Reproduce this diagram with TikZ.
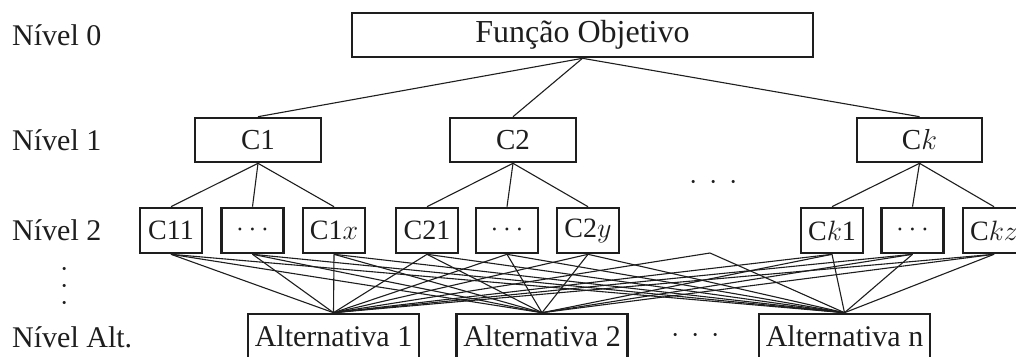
\RequirePackage{fix-cm}
\documentclass[tikz,border=0pt]{standalone}
\usepackage{fontspec}
\setmainfont{Liberation Serif}
\usepackage{tikz}
\usetikzlibrary{positioning}
\definecolor{AHPInk}{RGB}{30, 30, 30}

\begin{document}
\begin{tikzpicture}[x=1pt,y=-1pt,
  crit/.style={draw=AHPInk, line width=2.6pt, inner sep=0pt, text=AHPInk},
  link/.style={draw=AHPInk, line width=1.1pt},
  lvl/.style={anchor=west, inner sep=0pt, text=AHPInk, font=\fontsize{30}{36}\selectfont}]
  \useasboundingbox (0,0) rectangle (1016,356);
  \fill[white] (0,0) rectangle (1016,356);

  % level labels
  \node[lvl] (lab0) at (12,35) {Nível 0};
  \node[lvl] (lab1) at (12,140) {Nível 1};
  \node[lvl] (lab2) at (12,230) {Nível 2};
  \node[lvl] (labalt) at (12,337) {Nível Alt.};
  \node[text=AHPInk, inner sep=0pt, align=center, font=\fontsize{30}{17}\selectfont]
    (vdots) at (65,287) {$\cdot$\\$\cdot$\\$\cdot$};

  % goal
  \node[crit, minimum width=461pt, minimum height=44pt] (goal) at (582.5,35)
    {\fontsize{32}{36}\selectfont Função Objetivo};

  % criteria
  \node[crit, minimum width=126pt, minimum height=44pt] (c1) at (258,140)
    {\fontsize{29}{34}\selectfont C1};
  \node[crit, minimum width=126pt, minimum height=44pt] (c2) at (513,140)
    {\fontsize{29}{34}\selectfont C2};
  \node[crit, minimum width=125pt, minimum height=44pt] (ck) at (919.5,140)
    {\fontsize{29}{34}\selectfont C$k$};
  \node[text=AHPInk, inner sep=0pt] (cdots) at (714,183)
    {\fontsize{30}{36}\selectfont$\cdot\,\cdot\,\cdot$};

  % subcriteria
  \node[crit, minimum width=62pt, minimum height=45pt] (c11) at (171,230.5)
    {\fontsize{28}{34}\selectfont C11};
  \node[crit, minimum width=62pt, minimum height=45pt] (c1d) at (252.5,230.5)
    {\fontsize{28}{34}\selectfont$\cdots$};
  \node[crit, minimum width=62pt, minimum height=45pt] (c1x) at (334,230.5)
    {\fontsize{28}{34}\selectfont C1$x$};
  \node[crit, minimum width=62pt, minimum height=45pt] (c21) at (427,230.5)
    {\fontsize{28}{34}\selectfont C21};
  \node[crit, minimum width=62pt, minimum height=45pt] (c2d) at (507,230.5)
    {\fontsize{28}{34}\selectfont$\cdots$};
  \node[crit, minimum width=62pt, minimum height=45pt] (c2y) at (588,230.5)
    {\fontsize{28}{34}\selectfont C2$y$};
  \node[crit, minimum width=62pt, minimum height=45pt] (ck1) at (832,230.5)
    {\fontsize{28}{34}\selectfont C$k$1};
  \node[crit, minimum width=62pt, minimum height=45pt] (ckd) at (912.5,230.5)
    {\fontsize{28}{34}\selectfont$\cdots$};
  \node[crit, minimum width=62pt, minimum height=45pt] (ckz) at (994,230.5)
    {\fontsize{28}{34}\selectfont C$kz$};
  \coordinate (gap) at (710,253);

  % alternatives
  \node[crit, minimum width=171pt, minimum height=45pt] (alt1) at (333.5,336.5)
    {\fontsize{30}{36}\selectfont Alternativa 1};
  \node[crit, minimum width=171pt, minimum height=45pt] (alt2) at (542,336.5)
    {\fontsize{30}{36}\selectfont Alternativa 2};
  \node[crit, minimum width=171pt, minimum height=45pt] (altn) at (844.5,336.5)
    {\fontsize{30}{36}\selectfont Alternativa n};
  \node[text=AHPInk, inner sep=0pt] (adots) at (696,336)
    {\fontsize{30}{36}\selectfont$\cdot\,\cdot\,\cdot$};

  % links
  \foreach \c in {c1,c2,ck}
    \draw[link] (goal.south) -- (\c.north);
  \foreach \s in {c11,c1d,c1x}
    \draw[link] (c1.south) -- (\s.north);
  \foreach \s in {c21,c2d,c2y}
    \draw[link] (c2.south) -- (\s.north);
  \foreach \s in {ck1,ckd,ckz}
    \draw[link] (ck.south) -- (\s.north);
  \foreach \s in {c11,c1d,c1x,c21,c2d,c2y,ck1,ckd,ckz}
    \foreach \a in {alt1,alt2,altn}
      \draw[link] (\s.south) -- (\a.north);
  \foreach \a in {alt1,altn}
    \draw[link] (gap) -- (\a.north);
\end{tikzpicture}
\end{document}
